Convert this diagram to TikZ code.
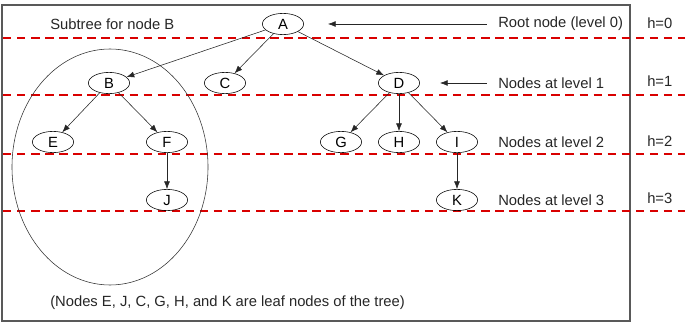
\documentclass[tikz,border=0pt]{standalone}
\usepackage{fontspec}
\setmainfont{Liberation Sans}
\usetikzlibrary{arrows.meta,positioning,shapes.geometric}

\begin{document}
\begin{tikzpicture}[x=0.025cm,y=-0.025cm,>={Latex[length=5.5pt,width=4.2pt]},
  tnode/.style={draw,ellipse,thin,minimum width=1.03cm,minimum height=0.53cm,inner sep=0pt,font=\fontsize{10.5}{12}\selectfont},
  note/.style={anchor=west,inner sep=0pt,text=black!85,font=\fontsize{10.5}{12}\selectfont},
  level/.style={red!85!black,dashed,line width=1pt,dash pattern=on 6pt off 4pt},
  edge/.style={->,thin,black!85}]
\useasboundingbox (0,0) rectangle (685,328);
\draw[gray!70!black,line width=0.9pt] (2,5) rectangle (630,321);
% level separators
\foreach \y in {38,95,154,211} \draw[level] (3,\y) -- (685,\y);
% subtree of B
\draw[thin,black!80] (110,167) ellipse (98 and 118);
% tree nodes
\node[tnode] (A) at (283,24) {A};
\node[tnode] (B) at (109,83) {B};
\node[tnode] (C) at (225,83) {C};
\node[tnode] (D) at (399,83) {D};
\node[tnode] (E) at (53,142) {E};
\node[tnode] (F) at (167,142) {F};
\node[tnode] (G) at (341,142) {G};
\node[tnode] (H) at (399,142) {H};
\node[tnode] (I) at (457,142) {I};
\node[tnode] (J) at (167,200) {J};
\node[tnode] (K) at (457,200) {K};
\foreach \a/\b in {A/B,A/C,A/D,B/E,B/F,F/J,D/G,D/H,D/I,I/K} \draw[edge] (\a) -- (\b);
% labels
\node[note] (sub) at (50,24) {Subtree for node B};
\node[note] (root) at (498,24) {Root node (level 0)};
\node[note] (lv1) at (498,83) {Nodes at level 1};
\node[note] (lv2) at (498,142) {Nodes at level 2};
\node[note] (lv3) at (498,200) {Nodes at level 3};
\node[note] (leaf) at (50,303) {(Nodes E, J, C, G, H, and K are leaf nodes of the tree)};
\foreach \h/\y in {0/23,1/81,2/141,3/198} \node[note] (h\h) at (647,\y) {h=\h};
\coordinate (rootend) at (328,24);
\coordinate (lv1end) at (440,83);
\draw[edge] ([xshift=-8]root.west) -- (rootend);
\draw[edge] ([xshift=-8]lv1.west) -- (lv1end);
\end{tikzpicture}
\end{document}
